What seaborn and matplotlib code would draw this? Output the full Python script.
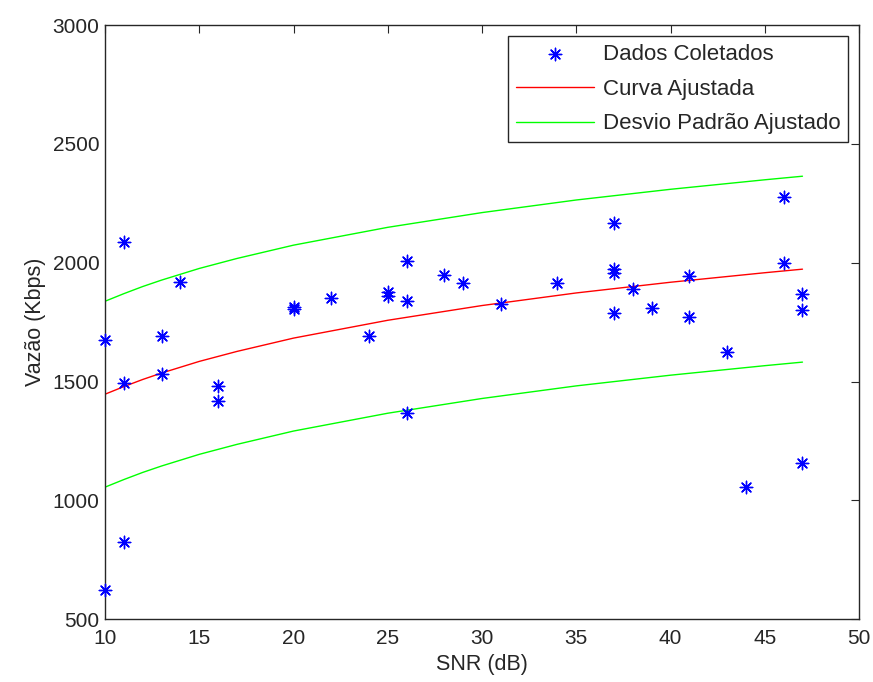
import matplotlib
matplotlib.use("Agg")
import matplotlib.pyplot as plt
import seaborn as sns
import pandas as pd
import numpy as np

# Collected data points
snr = [10, 10, 11, 11, 11, 13, 13, 14, 16, 16, 20, 20, 22, 24, 25, 25,
       26, 26, 26, 28, 29, 31, 34, 37, 37, 37, 37, 38, 39, 41, 41, 43,
       44, 46, 46, 47, 47, 47]
vazao = [1675, 623, 2086, 1495, 827, 1692, 1532, 1918, 1481, 1420, 1805, 1815,
         1850, 1692, 1860, 1875, 2007, 1838, 1369, 1947, 1916, 1825, 1915,
         2166, 1958, 1972, 1787, 1889, 1808, 1946, 1773, 1626, 1055, 2275,
         1998, 1867, 1801, 1156]

# Fitted curve and fitted std-deviation bounds
fit_x = [10, 11, 12, 13, 15, 17, 20, 25, 30, 35, 40, 45, 47]
fit_y = [1447, 1479, 1509, 1536, 1585, 1627, 1683, 1758, 1820, 1873, 1918, 1958, 1973]
upper_y = [1838, 1870, 1900, 1927, 1976, 2018, 2074, 2149, 2211, 2264, 2309, 2349, 2364]
lower_y = [1056, 1088, 1118, 1145, 1194, 1236, 1292, 1367, 1429, 1482, 1527, 1567, 1582]

sns.set_theme(style="white")
plt.rcParams['font.family'] = ['Liberation Sans', 'DejaVu Sans']

fig = plt.figure(figsize=(8.73, 6.82), dpi=100)
ax = fig.add_axes([0.1203, 0.0919, 0.8637, 0.8714])

pts = pd.DataFrame({"SNR": snr, "Vazao": vazao})
fit = pd.DataFrame({"x": fit_x, "y": fit_y, "up": upper_y, "lo": lower_y})

sns.scatterplot(data=pts, x="SNR", y="Vazao", ax=ax, marker=(8, 2, 0), s=80,
                color="#0000ff", edgecolor="#0000ff", linewidth=1.0,
                label="Dados Coletados", zorder=3, clip_on=False)
sns.lineplot(data=fit, x="x", y="y", ax=ax, color="#ff0000", linewidth=1.0,
             label="Curva Ajustada")
sns.lineplot(data=fit, x="x", y="up", ax=ax, color="#00ff00", linewidth=1.0,
             label="Desvio Padrão Ajustado")
sns.lineplot(data=fit, x="x", y="lo", ax=ax, color="#00ff00", linewidth=1.0,
             legend=False)

ax.set_xlim(10, 50)
ax.set_ylim(500, 3000)
ax.set_xticks(np.arange(10, 51, 5))
ax.set_yticks(np.arange(500, 3001, 500))
ax.set_xlabel("SNR (dB)", fontsize=15.5, labelpad=4, color="#262626")
ax.set_ylabel("Vazão (Kbps)", fontsize=15.5, labelpad=5, color="#262626")
ax.tick_params(axis="both", which="both", direction="in", length=6, width=0.8,
               top=True, right=True, labelsize=15, color="#262626",
               labelcolor="#262626")
ax.tick_params(axis="x", pad=7)
ax.tick_params(axis="y", pad=4)
for sp in ax.spines.values():
    sp.set_visible(True)
    sp.set_color("#262626")
    sp.set_linewidth(1.0)

leg = ax.legend(loc="upper right", fontsize=16, frameon=True, fancybox=False,
                edgecolor="#262626", framealpha=1, borderpad=0.35,
                handlelength=3.5, handletextpad=0.4, labelspacing=0.62,
                borderaxespad=0.5)
leg.get_frame().set_linewidth(1.0)
for t in leg.get_texts():
    t.set_color("#262626")

fig.savefig("out.png", dpi=100)
